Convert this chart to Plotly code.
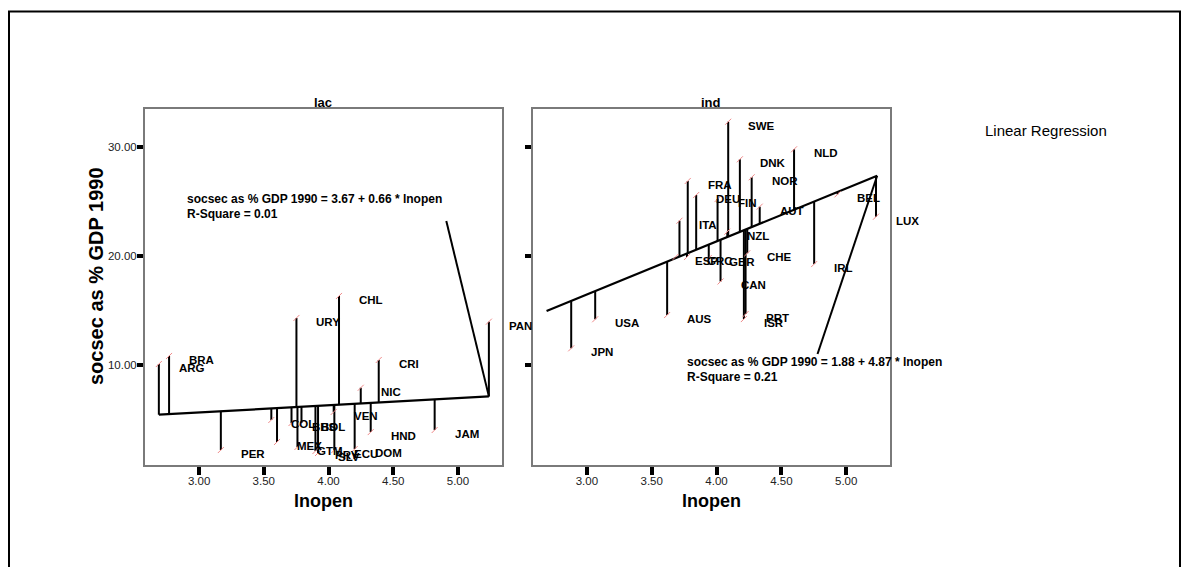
import plotly.graph_objects as go

# ---------------- data ----------------
lac_codes = ["ARG", "BRA", "PER", "COL", "MEX", "BHS", "URY", "GTM", "BOL", "PRY",
             "SLV", "CHL", "VEN", "ECU", "DOM", "NIC", "CRI", "HND", "JAM", "PAN"]
lac_x = [2.689, 2.768, 3.168, 3.558, 3.602, 3.714, 3.752, 3.760, 3.791, 3.899,
         3.919, 4.081, 4.040, 4.045, 4.202, 4.249, 4.388, 4.326, 4.820, 5.239]
lac_y = [10.10, 10.84, 2.20, 4.96, 2.94, 4.68, 14.33, 2.48, 4.68, 2.11,
         1.93, 16.35, 5.70, 2.20, 2.29, 7.92, 10.47, 3.85, 4.04, 13.99]

ind_codes = ["SWE", "NLD", "DNK", "NOR", "FRA", "DEU", "FIN", "AUT", "ITA", "BEL",
             "LUX", "NZL", "IRL", "CHE", "ESP", "GRC", "GBR", "CAN", "PRT", "ISR",
             "AUS", "USA", "JPN"]
ind_x = [4.090, 4.598, 4.180, 4.271, 3.778, 3.843, 4.008, 4.333, 3.714, 4.933,
         5.230, 4.083, 4.753, 4.237, 3.683, 3.772, 3.940, 4.031, 4.224, 4.211,
         3.619, 3.064, 2.879]
ind_y = [32.35, 29.82, 28.90, 27.25, 26.91, 25.62, 25.25, 24.55, 23.26, 25.68,
         23.63, 22.25, 19.28, 20.27, 19.93, 19.93, 19.83, 17.68, 14.69, 14.23,
         14.60, 14.21, 11.54]

lac_fit = (3.67, 0.66)   # intercept, slope
ind_fit = (1.88, 4.87)
lac_eq = ["socsec as % GDP 1990 = 3.67 + 0.66 * lnopen", "R-Square = 0.01"]
ind_eq = ["socsec as % GDP 1990 = 1.88 + 4.87 * lnopen", "R-Square = 0.21"]

panel_titles = ["lac", "ind"]
x_ticks = [3.0, 3.5, 4.0, 4.5, 5.0]
y_ticks = [10.0, 20.0, 30.0]
x_title = "lnopen"
y_title = "socsec as % GDP 1990"
legend_title = "Linear Regression"

# ---------------- layout geometry ----------------
W, H = 1190, 567
FONT = "Liberation Sans, Arial, sans-serif"


def fx(px):
    return px / W


def fy(py):
    return 1 - py / H


X_RANGE = [2.582, 5.338]
Y_RANGE = [0.826, 33.52]
dom_left = [fx(145), fx(501.7)]
dom_right = [fx(532.7), fx(890)]
dom_y = [fy(465), fy(109)]

fig = go.Figure()

xmin = min(lac_x + ind_x)
xmax = max(lac_x + ind_x)

panels = [
    ("x", "y", lac_codes, lac_x, lac_y, lac_fit),
    ("x2", "y2", ind_codes, ind_x, ind_y, ind_fit),
]

annotations = []
for xa, ya, codes, xs, ys, (a, b) in panels:
    # residual lines
    rx, ry = [], []
    for xv, yv in zip(xs, ys):
        rx += [xv, xv, None]
        ry += [yv, a + b * xv, None]
    fig.add_trace(go.Scatter(x=rx, y=ry, mode="lines", xaxis=xa, yaxis=ya,
                             line=dict(color="black", width=2),
                             hoverinfo="skip", showlegend=False))
    # fit line
    fig.add_trace(go.Scatter(x=[xmin, xmax], y=[a + b * xmin, a + b * xmax],
                             mode="lines", xaxis=xa, yaxis=ya,
                             line=dict(color="black", width=2.2),
                             hoverinfo="skip", showlegend=False))
    # points
    fig.add_trace(go.Scatter(x=xs, y=ys, mode="markers", xaxis=xa, yaxis=ya,
                             marker=dict(symbol="line-ne", size=6,
                                         line=dict(color="#f08a8a", width=1)),
                             text=codes, showlegend=False))
    for c, xv, yv in zip(codes, xs, ys):
        annotations.append(dict(x=xv, y=yv, xref=xa, yref=ya, text="<b>%s</b>" % c,
                                showarrow=False, xanchor="left", yanchor="middle",
                                xshift=18, yshift=-4,
                                font=dict(family=FONT, size=11.5, color="black")))

# equation text
eq_specs = [("x", "y", lac_eq, 2.893, 25.25, 23.87),
            ("x2", "y2", ind_eq, 3.760, 10.31, 8.93)]
for xa, ya, lines, ex, ey1, ey2 in eq_specs:
    for txt, ey in zip(lines, [ey1, ey2]):
        annotations.append(dict(x=ex, y=ey, xref=xa, yref=ya, text="<b>%s</b>" % txt,
                                showarrow=False, xanchor="left", yanchor="middle",
                                font=dict(family=FONT, size=12, color="black")))

# leader lines from equation to fit line end
shapes = [
    dict(type="line", xref="x", yref="y", x0=4.910, y0=23.23,
         x1=xmax, y1=lac_fit[0] + lac_fit[1] * xmax,
         line=dict(color="black", width=2)),
    dict(type="line", xref="x2", yref="y2", x0=4.779, y0=11.02,
         x1=xmax, y1=ind_fit[0] + ind_fit[1] * xmax,
         line=dict(color="black", width=2)),
    # outer frame
    dict(type="rect", xref="paper", yref="paper", x0=fx(9), x1=fx(1180),
         y0=fy(600), y1=fy(11.5), line=dict(color="black", width=2)),
]

# panel titles
for t, dom in zip(panel_titles, [dom_left, dom_right]):
    annotations.append(dict(x=(dom[0] + dom[1]) / 2, y=fy(102), xref="paper", yref="paper",
                            text="<b>%s</b>" % t, showarrow=False,
                            xanchor="center", yanchor="middle",
                            font=dict(family=FONT, size=13, color="black")))
# axis titles
for dom in [dom_left, dom_right]:
    annotations.append(dict(x=(dom[0] + dom[1]) / 2, y=fy(501), xref="paper", yref="paper",
                            text="<b>%s</b>" % x_title, showarrow=False,
                            xanchor="center", yanchor="middle",
                            font=dict(family=FONT, size=18, color="black")))
annotations.append(dict(x=fx(96), y=fy(276), xref="paper", yref="paper",
                        text="<b>%s</b>" % y_title, showarrow=False, textangle=-90,
                        xanchor="center", yanchor="middle",
                        font=dict(family=FONT, size=20, color="black")))
annotations.append(dict(x=fx(983), y=fy(130), xref="paper", yref="paper",
                        text=legend_title, showarrow=False,
                        xanchor="left", yanchor="middle",
                        font=dict(family=FONT, size=15, color="black")))

xaxis_common = dict(range=X_RANGE, tickvals=x_ticks, tickformat=".2f",
                    showline=True, mirror=True, linecolor="#7a7a7a", linewidth=2,
                    ticks="outside", ticklen=8, tickwidth=4, tickcolor="black",
                    ticklabelstandoff=-4,
                    showgrid=False, zeroline=False,
                    tickfont=dict(family=FONT, size=11.5, color="#222"))
yaxis_common = dict(range=Y_RANGE, tickvals=y_ticks, tickformat=".2f",
                    showline=True, mirror=True, linecolor="#7a7a7a", linewidth=2,
                    ticks="outside", ticklen=6, tickwidth=4, tickcolor="black",
                    ticklabelstandoff=-2,
                    showgrid=False, zeroline=False, domain=dom_y,
                    tickfont=dict(family=FONT, size=11.5, color="#222"))

fig.update_layout(
    width=W, height=H,
    margin=dict(l=0, r=0, t=0, b=0),
    paper_bgcolor="white", plot_bgcolor="white",
    showlegend=False,
    xaxis=dict(domain=dom_left, anchor="y", **xaxis_common),
    xaxis2=dict(domain=dom_right, anchor="y2", **xaxis_common),
    yaxis=dict(anchor="x", **yaxis_common),
    yaxis2=dict(anchor="x2", showticklabels=False, **yaxis_common),
    annotations=annotations,
    shapes=shapes,
    font=dict(family=FONT),
)

fig.write_html("out.html", config={"displayModeBar": False},
               post_script="document.body.style.margin='0';")
